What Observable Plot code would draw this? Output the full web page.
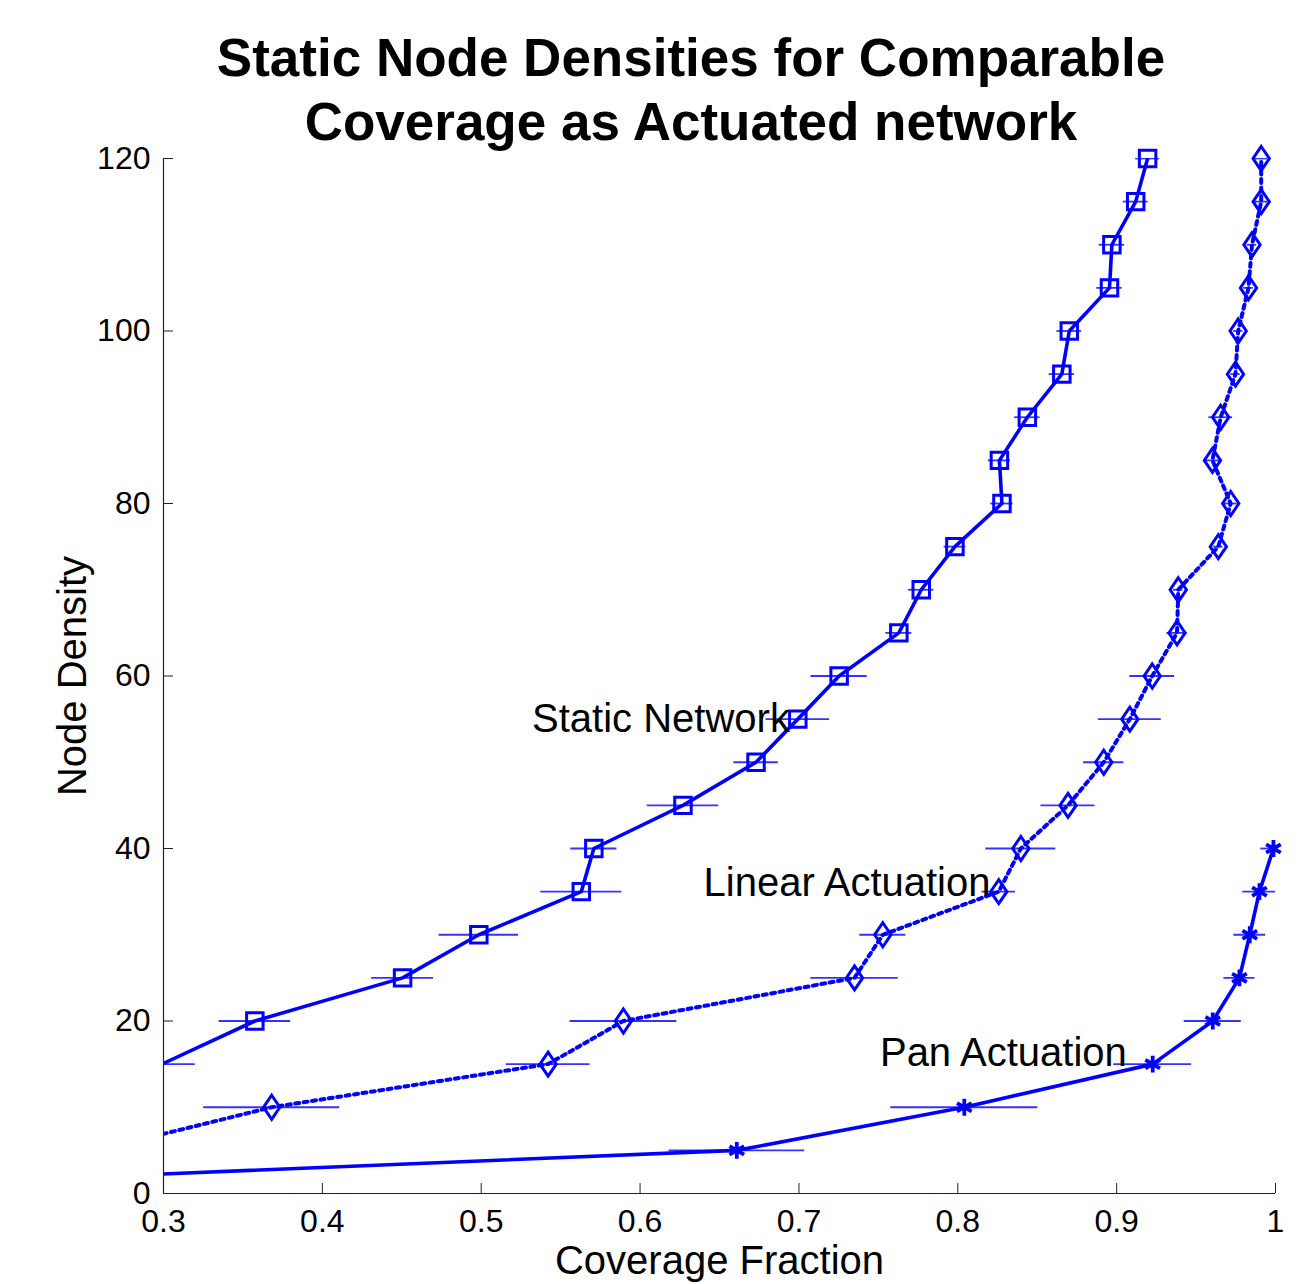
<!DOCTYPE html>
<html>
<head>
<meta charset="utf-8">
<script src="https://cdn.jsdelivr.net/npm/d3@7"></script>
<script src="https://cdn.jsdelivr.net/npm/@observablehq/plot@0.6"></script>
<style>
  html, body { margin: 0; padding: 0; background: #fff; }
  #wrap { position: relative; width: 1315px; height: 1284px; overflow: hidden; }
  #title { position: absolute; left: 191px; width: 1000px; top: 26px; text-align: center;
    font-family: "Liberation Sans", Arial, sans-serif; font-weight: bold; font-size: 53px; line-height: 64px; color: #000; }
</style>
</head>
<body>
<div id="wrap">
  <div id="chart"></div>
  <div id="title">Static Node Densities for Comparable<br>Coverage as Actuated network</div>
</div>
<script>
// ---- data ----
const staticDensity  = [15, 20, 25, 30, 35, 40, 45, 50, 55, 60, 65, 70, 75, 80, 85, 90, 95, 100, 105, 110, 115, 120];
const staticCoverage = [0.299, 0.3575, 0.4505, 0.4985, 0.563, 0.5709, 0.627, 0.673, 0.6993, 0.7253, 0.7629, 0.777, 0.7982, 0.8278, 0.8262, 0.8438, 0.8655, 0.8702, 0.8955, 0.897, 0.912, 0.9195];
const staticError    = [0.021, 0.0225, 0.0195, 0.025, 0.0255, 0.0145, 0.0225, 0.014, 0.020, 0.0177, 0.0082, 0.008, 0.0068, 0.007, 0.007, 0.008, 0.008, 0.0078, 0.008, 0.008, 0.0078, 0.0075];

const linearDensity  = [5, 10, 15, 20, 25, 30, 35, 40, 45, 50, 55, 60, 65, 70, 75, 80, 85, 90, 95, 100, 105, 110, 115, 120];
const linearCoverage = [0.258, 0.3681, 0.5421, 0.5895, 0.735, 0.7528, 0.8258, 0.8397, 0.8694, 0.8919, 0.9083, 0.9224, 0.938, 0.9388, 0.964, 0.9718, 0.9603, 0.9655, 0.9748, 0.9765, 0.983, 0.9852, 0.991, 0.991];
const linearError    = [0.02, 0.0428, 0.0264, 0.0336, 0.0275, 0.0145, 0.0105, 0.022, 0.017, 0.0127, 0.0198, 0.0141, 0.0064, 0.003, 0.003, 0.004, 0.005, 0.0075, 0.003, 0.003, 0.003, 0.003, 0.004, 0.004];

const panDensity  = [0, 5, 10, 15, 20, 25, 30, 35, 40];
const panCoverage = [0.0, 0.6609, 0.8041, 0.9227, 0.9605, 0.9773, 0.9838, 0.9899, 0.9987];
const panError    = [0, 0.0427, 0.0463, 0.0245, 0.018, 0.0098, 0.01, 0.0105, 0.008];

const xTicks = [0.3, 0.4, 0.5, 0.6, 0.7, 0.8, 0.9, 1];
const yTicks = [0, 20, 40, 60, 80, 100, 120];

const annotations = [
  {label: "Static Network",   coverage: 0.532, density: 55},
  {label: "Linear Actuation", coverage: 0.640, density: 36},
  {label: "Pan Actuation",    coverage: 0.751, density: 16.3}
];

// ---- build rows ----
const rows = (ys, xs, es) => ys.map((d, i) => ({density: d, coverage: xs[i], err: es[i]}));
const staticRows = rows(staticDensity, staticCoverage, staticError);
const linearRows = rows(linearDensity, linearCoverage, linearError);
const panRows    = rows(panDensity, panCoverage, panError);
const visible = r => r.coverage >= 0.3;

const blue = "#0000ff";
const font = "'Liberation Sans', Arial, sans-serif";

// MATLAB-like diamond (taller than wide)
const diamondSymbol = {
  draw(context, size) {
    const r = Math.sqrt(size / Math.PI);
    const w = r * 0.68, h = r;
    context.moveTo(0, -h);
    context.lineTo(w, 0);
    context.lineTo(0, h);
    context.lineTo(-w, 0);
    context.closePath();
  }
};

const errorBars = data => Plot.ruleY(data, {
  y: "density", x1: d => d.coverage - d.err, x2: d => d.coverage + d.err,
  stroke: blue, strokeWidth: 1.8, strokeOpacity: 0.8, clip: true
});

const chart = Plot.plot({
  width: 1315,
  height: 1284,
  marginLeft: 163,
  marginRight: 40,
  marginTop: 158,
  marginBottom: 91,
  style: {fontFamily: font, fontSize: "31px", color: "#000", background: "#fff"},
  x: {domain: [0.3, 1], label: null},
  y: {domain: [0, 120], label: null},
  marks: [
    errorBars(staticRows),
    errorBars(linearRows),
    errorBars(panRows),
    Plot.line(staticRows, {x: "coverage", y: "density", stroke: blue, strokeWidth: 3.6, clip: true}),
    Plot.line(linearRows, {x: "coverage", y: "density", stroke: blue, strokeWidth: 4, strokeDasharray: "4,4.5", clip: true}),
    Plot.line(panRows, {x: "coverage", y: "density", stroke: blue, strokeWidth: 3.6, clip: true}),
    Plot.dot(staticRows.filter(visible), {x: "coverage", y: "density", symbol: "square", r: 9.3, stroke: blue, strokeWidth: 3, fill: "none"}),
    Plot.dot(linearRows.filter(visible), {x: "coverage", y: "density", symbol: diamondSymbol, r: 12, stroke: blue, strokeWidth: 3, fill: "none"}),
    Plot.dot(panRows.filter(visible), {x: "coverage", y: "density", symbol: "asterisk", r: 8, stroke: blue, strokeWidth: 3.8}),
    Plot.text(annotations, {x: "coverage", y: "density", text: "label", textAnchor: "start", fontSize: 40, fill: "#000"}),
    Plot.ruleX([0.3], {stroke: "#222", strokeWidth: 1.2}),
    Plot.ruleY([0], {stroke: "#222", strokeWidth: 1.2}),
    Plot.axisX(xTicks, {anchor: "bottom", tickSize: -10, tickPadding: 26, tickFormat: d => String(d), fontSize: 32, stroke: "#222", label: null}),
    Plot.axisY(yTicks, {anchor: "left", tickSize: -10, tickPadding: 23, tickFormat: d => String(d), fontSize: 32, stroke: "#222", label: null}),
    Plot.text(["Node Density"], {frameAnchor: "left", textAnchor: "middle", dx: -90, rotate: -90, fontSize: 40, fill: "#000"}),
    Plot.text(["Coverage Fraction"], {frameAnchor: "bottom", textAnchor: "middle", dy: 80, fontSize: 40, fill: "#000"})
  ]
});
document.getElementById("chart").appendChild(chart);
</script>
</body>
</html>
